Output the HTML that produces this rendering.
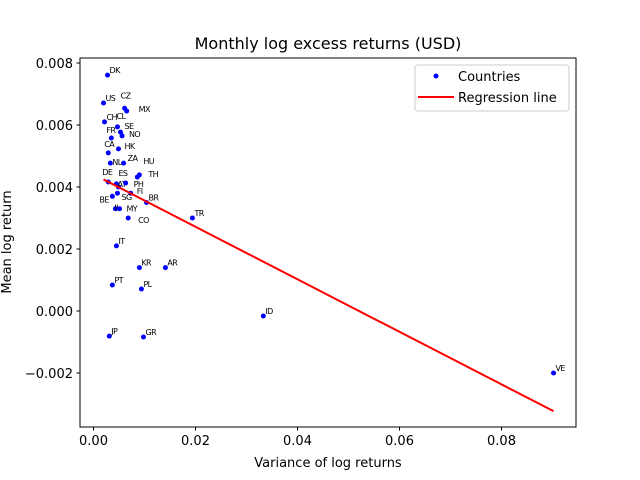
<!DOCTYPE html>
<html><head><meta charset="utf-8"><style>
body{margin:0;background:#fff}
svg{display:block;font-family:"DejaVu Sans","Liberation Sans",sans-serif}
.pl{letter-spacing:-0.6px}
</style></head><body>
<svg id="chart" width="640" height="480">
<rect width="640" height="480" fill="#fff"/>
<text x="328" y="49" font-size="16" text-anchor="middle">Monthly log excess returns (USD)</text>
<g id="plot"></g>
<rect x="80" y="58" width="496" height="369" fill="none" stroke="#000" stroke-width="1"/>
<text x="328" y="467" font-size="13" text-anchor="middle">Variance of log returns</text>
<text transform="translate(11,242) rotate(-90)" font-size="13" text-anchor="middle">Mean log return</text>
<g>
<rect x="415" y="65" width="154" height="46" rx="3" fill="#fff" stroke="#ccc"/>
<circle cx="436" cy="76" r="2.5" fill="#0000ff"/>
<text x="458" y="81" font-size="13">Countries</text>
<line x1="418" y1="97" x2="454" y2="97" stroke="#ff0000" stroke-width="2"/>
<text x="458" y="102" font-size="13">Regression line</text>
</g>
</svg>
<script>
const countries=["DK","US","CZ","MX","CH","CL","SE","NO","FR","CA","HK","NL","ZA","HU","TH","DE","ES","AT","PH","FI","SG","BE","IL","MY","BR","TR","CO","IT","KR","AR","PT","PL","ID","JP","GR","VE"];
const variances=[0.00275,0.00196,0.0061,0.0065,0.00216,0.0047,0.0053,0.0056,0.0035,0.0029,0.0049,0.0033,0.0059,0.0090,0.0086,0.0029,0.0045,0.0049,0.0063,0.0073,0.0047,0.0037,0.0043,0.0051,0.0104,0.0194,0.0068,0.0045,0.0090,0.0141,0.0037,0.0094,0.0333,0.0031,0.0098,0.0902];
const means=[0.00761,0.00671,0.00654,0.00645,0.00610,0.00594,0.00577,0.00565,0.00558,0.00510,0.00523,0.00477,0.00477,0.00439,0.00432,0.00416,0.00410,0.00400,0.00413,0.00380,0.00380,0.00370,0.00330,0.00330,0.00350,0.00300,0.00300,0.00210,0.00140,0.00140,0.00084,0.00071,-0.00016,-0.00081,-0.00084,-0.00200];
const xTicks=[0,0.02,0.04,0.06,0.08];
const xTickLabels=["0.00","0.02","0.04","0.06","0.08"];
const yTicks=[-0.002,0,0.002,0.004,0.006,0.008];
const yTickLabels=["\u22120.002","0.000","0.002","0.004","0.006","0.008"];
const regIntercept=0.00441;
const regSlope=-0.0847;
// label nudges (pixels) for crowded labels
const labelNudge={CZ:[-6,-8],MX:[10,3],CL:[-3,-6],SE:[2,-1],NO:[5,3],FR:[-7,-3],CA:[-6,-4],HK:[4,2],NL:[0,4],ZA:[2,0],HU:[2,-9],TH:[9,2],DE:[-8,-5],ES:[0,-6],AT:[-3,2],PH:[6,6],FI:[4,3],SG:[2,9],BE:[-15,8],IL:[-3,4],MY:[5,5],CO:[8,7]};

const NS="http://www.w3.org/2000/svg";
const xs=v=>93.5+v*5100;
const ys=v=>311-v*31000;
const g=document.getElementById('plot');
function mk(t,a){const e=document.createElementNS(NS,t);for(const k in a)e.setAttribute(k,a[k]);g.appendChild(e);return e;}
xTicks.forEach((t,i)=>{
  const x=xs(t);
  const l=mk('line',{x1:x,x2:x,y1:427,y2:430.5,stroke:'#000'});
  
  
  const tx=mk('text',{x:x,y:445,'font-size':13,'text-anchor':'middle'});
  tx.textContent=xTickLabels[i];
  
  
});
yTicks.forEach((t,i)=>{
  const y=ys(t);
  const l=mk('line',{x1:76.5,x2:80,y1:y,y2:y,stroke:'#000'});
  
  
  const tx=mk('text',{x:73,y:y+5,'font-size':13,'text-anchor':'end'});
  tx.textContent=yTickLabels[i];
  
  
});
countries.forEach((c,i)=>{
  const x=xs(variances[i]),y=ys(means[i]);
  const p=mk('circle',{cx:x,cy:y,r:2.5,fill:'#0000ff'});
  
  
  const n=labelNudge[c]||[0,0];
  const t=mk('text',{x:x+2+n[0],y:y-2+n[1],'font-size':8,'class':'pl'});
  t.textContent=c;
  
  
});
const xmin=Math.min(...variances),xmax=Math.max(...variances);
const rl=mk('line',{x1:xs(xmin),y1:ys(regIntercept+regSlope*xmin),x2:xs(xmax),y2:ys(regIntercept+regSlope*xmax),stroke:'#ff0000','stroke-width':2});


</script>
</body></html>
